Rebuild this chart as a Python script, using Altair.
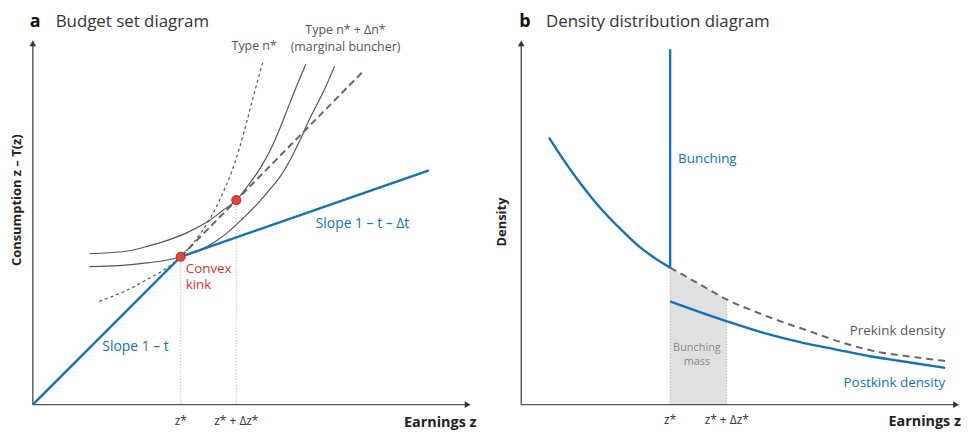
import altair as alt
import pandas as pd

FONT = "Open Sans"
BLUE = "#1172b7"
RED = "#e0322b"
GRAY = "#555555"

# ---------------- Panel a: budget set diagram (diagram units) ----------------
blue_a_x = [0, 149, 399]
blue_a_y = [0, 149, 236]
tangent_x = [149, 333]
tangent_y = [149, 336]
type_n_x = [67, 92, 117, 137, 149, 160, 170, 180, 190, 200, 208, 215, 221, 227, 232]
type_n_y = [104, 114, 127, 139, 149, 161, 174, 190, 210, 234, 258, 283, 306, 328, 346]
marg_hi_x = [57, 77, 97, 117, 137, 157, 177, 192, 205, 217, 229, 240, 250, 259, 267, 275]
marg_hi_y = [152, 153, 155, 160, 166, 174, 185, 196, 206, 221, 238, 258, 281, 304, 324, 343]
marg_lo_x = [57, 87, 117, 137, 149, 167, 182, 197, 212, 227, 239, 250, 260, 269, 277, 285, 294, 304]
marg_lo_y = [139, 140, 143, 146, 149, 155, 163, 174, 188, 203, 217, 231, 248, 266, 284, 300, 318, 341]
dots_x = [149, 205]
dots_y = [149, 206]

# ---------------- Panel b: density distribution diagram ----------------
pre_x = [28, 43, 58, 73, 88, 103, 118, 134, 150]
pre_y = [269, 246, 225, 206, 189, 174, 160, 148, 138]
spike_x = [150]
spike_y0 = [138]
spike_y1 = [358]
prekink_x = [150, 175, 207, 245, 293, 325, 360, 395, 427]
prekink_y = [138, 124, 106, 90, 73, 62, 53, 48, 44]
post_x = [150, 175, 207, 245, 285, 315, 350, 382, 427]
post_y = [104, 95, 84, 72, 62, 56, 49, 44, 37]
zstar_b = 150
zdelta_b = 207

XA = alt.Scale(domain=[-25, 452], nice=False, zero=False)
YA = alt.Scale(domain=[-19, 398], nice=False, zero=False)
XB = alt.Scale(domain=[-40, 436], nice=False, zero=False)
YB = alt.Scale(domain=[-19, 398], nice=False, zero=False)


def enc(chart, xs, ys, **extra):
    return chart.encode(x=alt.X("x:Q", scale=xs, axis=None),
                        y=alt.Y("y:Q", scale=ys, axis=None), **extra)


def line(xv, yv, xs, ys, **mk):
    df = pd.DataFrame({"x": xv, "y": yv, "i": range(len(xv))})
    return enc(alt.Chart(df).mark_line(**mk), xs, ys, order="i:Q")


def text(labels, xv, yv, xs, ys, **mk):
    df = pd.DataFrame({"x": xv, "y": yv, "label": labels})
    mk.setdefault("font", FONT)
    mk.setdefault("baseline", "middle")
    return enc(alt.Chart(df).mark_text(**mk), xs, ys, text="label:N")


def axes(xs, ys, xend, yend):
    df = pd.DataFrame({"x": [0, 0], "y": [0, 0], "x2": [0, xend], "y2": [yend, 0]})
    rules = alt.Chart(df).mark_rule(color=GRAY, strokeWidth=1.4).encode(
        x=alt.X("x:Q", scale=xs, axis=None), y=alt.Y("y:Q", scale=ys, axis=None),
        x2="x2:Q", y2="y2:Q")
    up = enc(alt.Chart(pd.DataFrame({"x": [0], "y": [yend + 2]})).mark_point(
        shape="triangle-up", filled=True, size=45, color="#333", opacity=1), xs, ys)
    right = enc(alt.Chart(pd.DataFrame({"x": [xend + 2], "y": [0]})).mark_point(
        shape="triangle-right", filled=True, size=45, color="#333", opacity=1), xs, ys)
    return [rules, up, right]


# ---- panel a layers
dots_df = pd.DataFrame({"x": dots_x, "y": dots_y})
guides_a = alt.Chart(dots_df).transform_calculate(base="0").mark_rule(
    color="#999", strokeWidth=0.8, strokeDash=[1, 2]).encode(
    x=alt.X("x:Q", scale=XA, axis=None), y=alt.Y("y:Q", scale=YA, axis=None), y2="base:Q")

layers_a = [guides_a] + axes(XA, YA, 436, 362) + [
    line(type_n_x, type_n_y, XA, YA, color=GRAY, strokeWidth=1.2, strokeDash=[3, 3], interpolate="monotone"),
    line(marg_hi_x, marg_hi_y, XA, YA, color=GRAY, strokeWidth=1.2, interpolate="monotone"),
    line(marg_lo_x, marg_lo_y, XA, YA, color=GRAY, strokeWidth=1.2, interpolate="monotone"),
    line(tangent_x, tangent_y, XA, YA, color="#666", strokeWidth=2, strokeDash=[7, 4]),
    line(blue_a_x, blue_a_y, XA, YA, color=BLUE, strokeWidth=2.4),
    enc(alt.Chart(dots_df).mark_point(filled=True, size=85, color="#e2453a", stroke="#b8281f",
                                       strokeWidth=1, opacity=1), XA, YA),
    text(["a"], [-3], [385], XA, YA, align="left", fontSize=18, fontWeight="bold", color="#111"),
    text(["Budget set diagram"], [23], [385], XA, YA, align="left", fontSize=17, color="#333"),
    text(["Type n*"], [223], [361], XA, YA, fontSize=12.5, color=GRAY),
    text(["Type n* + Δn*", "(marginal buncher)"], [315, 315], [377, 360], XA, YA, fontSize=12.5, color=GRAY),
    text(["Slope 1 – t – Δt"], [285], [182], XA, YA, align="left", fontSize=14, color=BLUE),
    text(["Slope 1 – t"], [70], [58], XA, YA, align="left", fontSize=14, color=BLUE),
    text(["Convex", "kink"], [154, 154], [137, 120], XA, YA, align="left", fontSize=13.5, color=RED),
    text(["z*", "z* + Δz*"], [149, 205], [-17, -17], XA, YA, fontSize=12, color="#333"),
    text(["Earnings z"], [447], [-19], XA, YA, align="right", fontSize=14.5, fontWeight="bold", color="#222"),
    text(["Consumption z – T(z)"], [-16], [206], XA, YA, angle=270, fontSize=13, fontWeight="bold", color="#222"),
]
panel_a = alt.layer(*layers_a).properties(width=477, height=417)

# ---- panel b layers
prek_df = pd.DataFrame({"x": prekink_x, "y": prekink_y})
shade = alt.Chart(prek_df).transform_filter(alt.datum.x <= zdelta_b).transform_calculate(
    base="0").mark_area(color="#e0e0e0", opacity=1).encode(
    x=alt.X("x:Q", scale=XB, axis=None), y=alt.Y("y:Q", scale=YB, axis=None), y2="base:Q")
guide_df = pd.DataFrame({"x": [zstar_b, zdelta_b], "y": [prekink_y[0], prekink_y[2]]})
guides_b = alt.Chart(guide_df).transform_calculate(base="0").mark_rule(
    color="#999", strokeWidth=0.8, strokeDash=[1, 2]).encode(
    x=alt.X("x:Q", scale=XB, axis=None), y=alt.Y("y:Q", scale=YB, axis=None), y2="base:Q")
spike_df = pd.DataFrame({"x": spike_x, "y": spike_y0, "y2": spike_y1})
spike = alt.Chart(spike_df).mark_rule(color=BLUE, strokeWidth=2.4).encode(
    x=alt.X("x:Q", scale=XB, axis=None), y=alt.Y("y:Q", scale=YB, axis=None), y2="y2:Q")

layers_b = [shade, guides_b] + axes(XB, YB, 436, 362) + [
    line(prekink_x, prekink_y, XB, YB, color="#666", strokeWidth=2, strokeDash=[7, 5], interpolate="monotone"),
    line(post_x, post_y, XB, YB, color=BLUE, strokeWidth=2.4, interpolate="monotone"),
    line(pre_x, pre_y, XB, YB, color=BLUE, strokeWidth=2.4, interpolate="monotone"),
    spike,
    text(["b"], [-2], [385], XB, YB, align="left", fontSize=18, fontWeight="bold", color="#111"),
    text(["Density distribution diagram"], [25], [385], XB, YB, align="left", fontSize=17, color="#333"),
    text(["Bunching"], [158], [247], XB, YB, align="left", fontSize=13.5, color=BLUE),
    text(["Bunching", "mass"], [177, 177], [57, 43], XB, YB, fontSize=11, color="#888"),
    text(["Prekink density"], [427], [74], XB, YB, align="right", fontSize=13.5, color=GRAY),
    text(["Postkink density"], [427], [22], XB, YB, align="right", fontSize=13.5, color=BLUE),
    text(["z*", "z* + Δz*"], [zstar_b, zdelta_b], [-16, -16], XB, YB, fontSize=12, color="#333"),
    text(["Earnings z"], [443], [-18], XB, YB, align="right", fontSize=14.5, fontWeight="bold", color="#222"),
    text(["Density"], [-19], [184], XB, YB, angle=270, fontSize=13, fontWeight="bold", color="#222"),
]
panel_b = alt.layer(*layers_b).properties(width=476, height=417)

chart = alt.hconcat(panel_a, panel_b, spacing=0, bounds="flush").properties(
    padding=0).configure_view(stroke=None)

chart.save("out.html", embed_options={"renderer": "svg", "actions": False})
